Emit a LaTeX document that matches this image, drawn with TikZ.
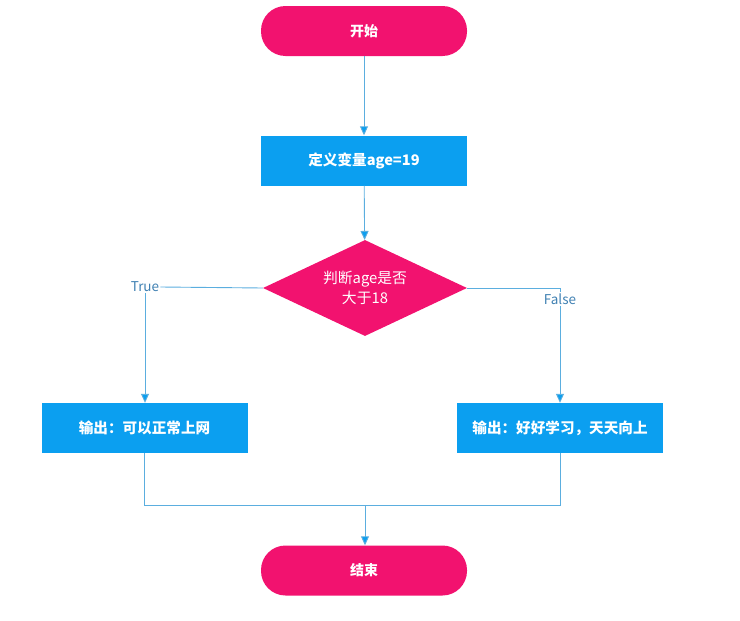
\documentclass[tikz,border=0pt]{standalone}
\usepackage{fontspec}
\setmainfont{Noto Sans CJK SC}
\usetikzlibrary{shapes.geometric,arrows.meta}
\definecolor{pinkc}{HTML}{F2126F}
\definecolor{bluec}{HTML}{0B9FF0}
\definecolor{linec}{HTML}{5BAEDF}
\definecolor{labc}{HTML}{3F80B2}
\tikzset{
  term/.style={rectangle, rounded corners=24.5pt, fill=pinkc, text=white,
    minimum width=206pt, minimum height=50pt, inner sep=0pt, font=\fontsize{14}{16}\selectfont\bfseries},
  procbox/.style={rectangle, fill=bluec, text=white,
    minimum width=206pt, minimum height=50pt, inner sep=0pt, font=\fontsize{14.6}{16}\selectfont\bfseries},
  decide/.style={diamond, fill=pinkc, text=white, aspect=2.125,
    minimum width=204pt, minimum height=96pt, inner sep=0pt, align=center,
    font=\fontsize{14.8}{20}\selectfont},
  conn/.style={draw=linec, line width=0.9pt},
  arr/.style={conn, -{Triangle[width=8pt,length=9pt,fill=bluec]}},
  lab/.style={text=labc, inner sep=1pt, font=\fontsize{13.5}{15}\selectfont},
}
\begin{document}
\begin{tikzpicture}[x=1pt,y=-1pt]
\useasboundingbox (0,0) rectangle (740,621);
\node[term] (start) at (364,31) {开始};
\node[procbox] (def) at (364,160.5) {定义变量age=19};
\node[decide] (dia) at (365,288) {判断age是否\\大于18};
\node[procbox] (left) at (144.5,428) {输出：可以正常上网};
\node[procbox] (right) at (560,428) {输出：好好学习，天天向上};
\node[term] (end) at (364,570.5) {结束};
\node[lab] (truelab) at (145,287) {True};
\node[lab] (falselab) at (560,299) {False};
\coordinate (cf) at (560,288);
\coordinate (m) at (365,505);

\draw[arr] (start) -- (def);
\draw[arr] (def) -- (dia);
\draw[conn] (dia.west) -- (truelab.east);
\draw[arr] (truelab.south) -- (truelab.south |- left.north);
\draw[conn] (dia.east) -- (cf) -- (falselab.north);
\draw[arr] (falselab.south) -- (right.north);
\draw[conn] (left.south) |- (m);
\draw[conn] (right.south) |- (m);
\draw[arr] (m) -- (m |- end.north);
\end{tikzpicture}
\end{document}
